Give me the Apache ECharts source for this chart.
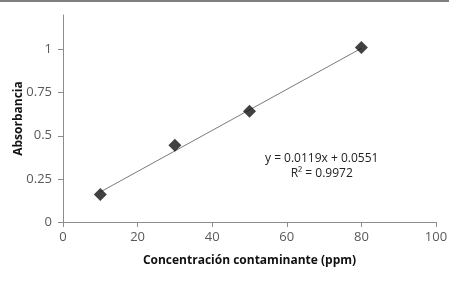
<!DOCTYPE html>
<html>
<head>
<meta charset="utf-8">
<script src="https://cdn.jsdelivr.net/npm/echarts@6/dist/echarts.min.js"></script>
<style>
  html, body { margin: 0; padding: 0; background: #fff; }
  #main { width: 449px; height: 282px; }
</style>
</head>
<body>
<div id="main"></div>
<script>
// datos
var concentracion = [10, 30, 50, 80];
var absorbancia = [0.16, 0.445, 0.642, 1.012];
// linea de tendencia (extremos)
var tendX = [10, 80];
var tendY = [0.174, 1.007];
var ecuacion = 'y = 0.0119x + 0.0551';
var r2 = 'R² = 0.9972';

var chart = echarts.init(document.getElementById('main'));

var fuente = 'Open Sans';

var option = {
    animation: false,
    graphic: [{
        type: 'rect',
        shape: { x: 0, y: 0, width: 449, height: 2 },
        style: { fill: '#7f7f7f' }
    }, {
        type: 'text',
        left: 265, top: 151,
        style: {
            text: ecuacion + '\n' + r2,
            textAlign: 'center',
            x: 56,
            font: '12px ' + fuente,
            fill: '#222',
            lineHeight: 15
        }
    }],
    grid: { left: 63, right: 13, top: 15, bottom: 60, outerBoundsMode: 'none' },
    xAxis: {
        type: 'value',
        min: 0, max: 100, interval: 20,
        name: 'Concentración contaminante (ppm)',
        nameLocation: 'middle',
        nameGap: 33,
        nameMoveOverlap: false,
        nameTextStyle: { fontFamily: fuente, fontWeight: 'bold', fontSize: 12, color: '#111' },
        axisLine: { lineStyle: { color: '#8c8c8c' } },
        axisTick: { show: true, length: 5, lineStyle: { color: '#8c8c8c' } },
        axisLabel: { fontFamily: fuente, fontSize: 13, color: '#595959', margin: 9 },
        splitLine: { show: false }
    },
    yAxis: {
        type: 'value',
        min: 0, max: 1.2, interval: 0.25,
        name: 'Absorbancia',
        nameLocation: 'middle',
        nameGap: 38,
        nameMoveOverlap: false,
        nameTextStyle: { fontFamily: fuente, fontWeight: 'bold', fontSize: 12, color: '#111' },
        axisLine: { show: true, lineStyle: { color: '#8c8c8c' } },
        axisTick: { show: true, length: 5, lineStyle: { color: '#8c8c8c' } },
        axisLabel: {
            fontFamily: fuente, fontSize: 13, color: '#595959', margin: 11,
            showMaxLabel: false
        },
        splitLine: { show: false }
    },
    series: [{
        type: 'line',
        data: tendX.map(function (x, i) { return [x, tendY[i]]; }),
        symbol: 'none',
        lineStyle: { color: '#7a7a7a', width: 1 },
        z: 1
    }, {
        type: 'scatter',
        data: concentracion.map(function (x, i) { return [x, absorbancia[i]]; }),
        symbol: 'diamond',
        symbolSize: [13, 13],
        itemStyle: { color: '#111' },
        z: 2
    }]
};
chart.setOption(option);
</script>
</body>
</html>
